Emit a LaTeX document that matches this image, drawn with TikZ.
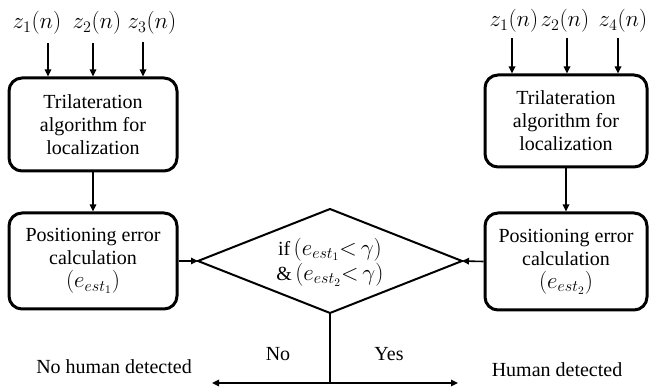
\documentclass[tikz,border=0pt]{standalone}
\usepackage{fix-cm}
\usepackage{fontspec}
\setmainfont{Liberation Serif}
\usetikzlibrary{arrows.meta}
\newcommand\mth[1]{{\fontsize{23}{23}\selectfont$#1$}}
\begin{document}
\begin{tikzpicture}[x=1pt,y=-1pt,
  every node/.style={font=\fontsize{20}{23}\selectfont},
  procbox/.style={draw, line width=3pt, rounded corners=13pt, align=center, inner sep=0pt},
  conn/.style={line width=1.6pt, -{Triangle[length=7pt,width=6.5pt]}},
  plain/.style={line width=2pt},
  lbl/.style={inner sep=0pt, anchor=base}]
\useasboundingbox (0,0) rectangle (649,390);
% left column
\node[procbox, minimum width=168pt, minimum height=93pt] (t1) at (93,124.5) {Trilateration\\algorithm for\\localization};
\node[procbox, minimum width=168pt, minimum height=96pt] (p1) at (93,261) {Positioning error\\calculation\\\mth{(e_{est_1})}};
% right column
\node[procbox, minimum width=162pt, minimum height=92pt] (t2) at (566,121) {Trilateration\\algorithm for\\localization};
\node[procbox, minimum width=162pt, minimum height=97pt] (p2) at (566,261.5) {Positioning error\\calculation\\\mth{(e_{est_2})}};
% input labels
\node[lbl] (a1) at (37,29) {\mth{z_1(n)}};
\node[lbl] (a2) at (97,29) {\mth{z_2(n)}};
\node[lbl] (a3) at (152,29) {\mth{z_3(n)}};
\node[lbl] (b1) at (514,27) {\mth{z_1(n)}};
\node[lbl] (b2) at (565,27) {\mth{z_2(n)}};
\node[lbl] (b4) at (623,27) {\mth{z_4(n)}};
\coordinate (a1s) at (48,43); \coordinate (a2s) at (93,43); \coordinate (a3s) at (143,42);
\coordinate (b1s) at (512,38); \coordinate (b2s) at (567,38); \coordinate (b4s) at (618,38);
\draw[conn] (a1s) -- (a1s |- t1.north);
\draw[conn] (a2s) -- (a2s |- t1.north);
\draw[conn] (a3s) -- (a3s |- t1.north);
\draw[conn] (b1s) -- (b1s |- t2.north);
\draw[conn] (b2s) -- (b2s |- t2.north);
\draw[conn] (b4s) -- (b4s |- t2.north);
\draw[conn] (t1.south) -- (p1.north);
\draw[conn] (t2.south) -- (p2.north);
% decision diamond
\coordinate (dl) at (198,261);
\coordinate (dt) at (330,209);
\coordinate (dr) at (462,261);
\coordinate (db) at (330,313);
\draw[plain, line join=miter] (dl) -- (dt) -- (dr) -- (db) -- cycle;
\node[align=center, inner sep=0pt] (dtext) at (330,262) {if\,\mth{(e_{est_1}{<}\,\gamma)}\\[1pt]\&\,\mth{(e_{est_2}{<}\,\gamma)}};
\draw[conn] (p1.east) -- (dl);
\draw[conn] (p2.west) -- (dr);
% outputs
\coordinate (bj) at (330,383);
\coordinate (bl) at (212,383);
\coordinate (br) at (458,383);
\draw[plain] (db) -- (bj);
\draw[conn] (bj) -- (bl);
\draw[conn] (bj) -- (br);
\node[lbl] (no) at (278,361) {No};
\node[lbl] (yes) at (389,361) {Yes};
\node[lbl] (nh) at (114,374) {No human detected};
\node[lbl] (hd) at (557,377) {Human detected};
\end{tikzpicture}
\end{document}
